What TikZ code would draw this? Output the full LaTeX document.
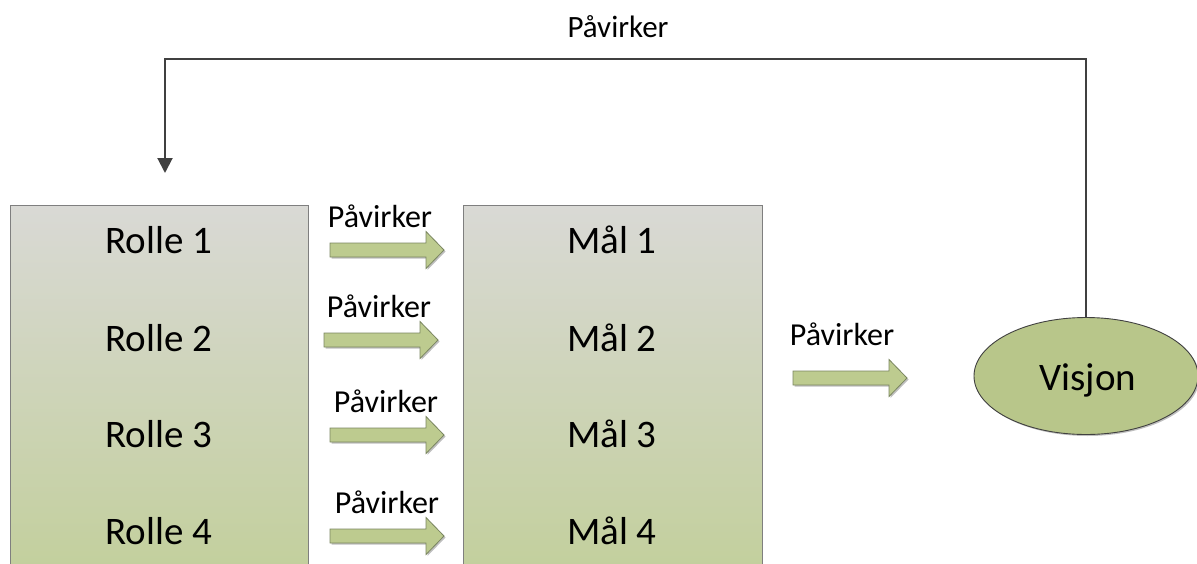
\documentclass[tikz,border=0pt]{standalone}
\usepackage{fontspec}
\setmainfont{Carlito}
\usetikzlibrary{arrows.meta,shadows,shapes.geometric}

\definecolor{boxtop}{HTML}{D9D9D5}
\definecolor{boxbottom}{HTML}{C2CF9B}
\definecolor{boxline}{HTML}{7F7F7F}
\definecolor{arrowfill}{HTML}{BDCB8F}
\definecolor{arrowline}{HTML}{7A8660}
\definecolor{visionfill}{HTML}{B8C68A}
\definecolor{linkline}{HTML}{404040}

\tikzset{
  listbox/.style={draw=boxline, line width=1pt, top color=boxtop, bottom color=boxbottom},
  itemtext/.style={anchor=base, inner sep=0pt, font=\fontsize{39}{39}\selectfont},
  labeltext/.style={anchor=base, inner sep=0pt, font=\fontsize{32}{32}\selectfont},
  toplabel/.style={anchor=base, inner sep=0pt, font=\fontsize{31}{31}\selectfont},
  blockarrow/.style={draw=arrowline, line width=0.8pt, fill=arrowfill, line join=miter,
    drop shadow={shadow xshift=1.5pt, shadow yshift=-1.5pt, opacity=0.25, fill=black}},
  vision/.style={ellipse, draw=linkline, line width=0.9pt, fill=visionfill,
    minimum width=224pt, minimum height=117pt, inner sep=0pt,
    drop shadow={shadow xshift=1.5pt, shadow yshift=-1.5pt, opacity=0.25, fill=black}},
  feedback/.style={draw=linkline, line width=2pt,
    -{Triangle[width=15pt,length=15pt]}},
  pics/pavarrow/.style={code={
    \path[blockarrow] (0,-7) -- (96,-7) -- (96,-18.5) -- (114,0) -- (96,18.5)
      -- (96,7) -- (0,7) -- cycle;
  }}
}

\begin{document}
\begin{tikzpicture}[x=1pt, y=-1pt]
  \useasboundingbox (0,0) rectangle (1197,563);
  \clip (0,0) rectangle (1197,563);

  % the two columns
  \path[listbox] (10,205) rectangle (308,580);
  \path[listbox] (463,205) rectangle (762,580);

  \node[itemtext] (r1) at (159,253) {Rolle 1};
  \node[itemtext] (r2) at (159,351) {Rolle 2};
  \node[itemtext] (r3) at (159,447) {Rolle 3};
  \node[itemtext] (r4) at (159,544) {Rolle 4};

  \node[itemtext] (m1) at (612,253) {Mål 1};
  \node[itemtext] (m2) at (612,351) {Mål 2};
  \node[itemtext] (m3) at (612,447) {Mål 3};
  \node[itemtext] (m4) at (612,544) {Mål 4};

  % block arrows between the columns
  \pic at (330,250) {pavarrow};
  \pic at (324,340) {pavarrow};
  \pic at (330,435) {pavarrow};
  \pic at (330,536) {pavarrow};
  \pic at (793,378) {pavarrow};

  \node[labeltext] (p1) at (380,227) {Påvirker};
  \node[labeltext] (p2) at (379,317) {Påvirker};
  \node[labeltext] (p3) at (386,412) {Påvirker};
  \node[labeltext] (p4) at (387,513) {Påvirker};
  \node[labeltext] (p5) at (842,345) {Påvirker};

  % vision
  \node[vision] (vis) at (1086,376) {};
  \node[itemtext] (vist) at (1088,390) {Visjon};

  % feedback link back to the roles
  \coordinate (back) at (165,173);
  \draw[feedback] (vis.north) |- (165,59) -- (back);
  \node[toplabel] (ptop) at (618,37) {Påvirker};
\end{tikzpicture}
\end{document}
